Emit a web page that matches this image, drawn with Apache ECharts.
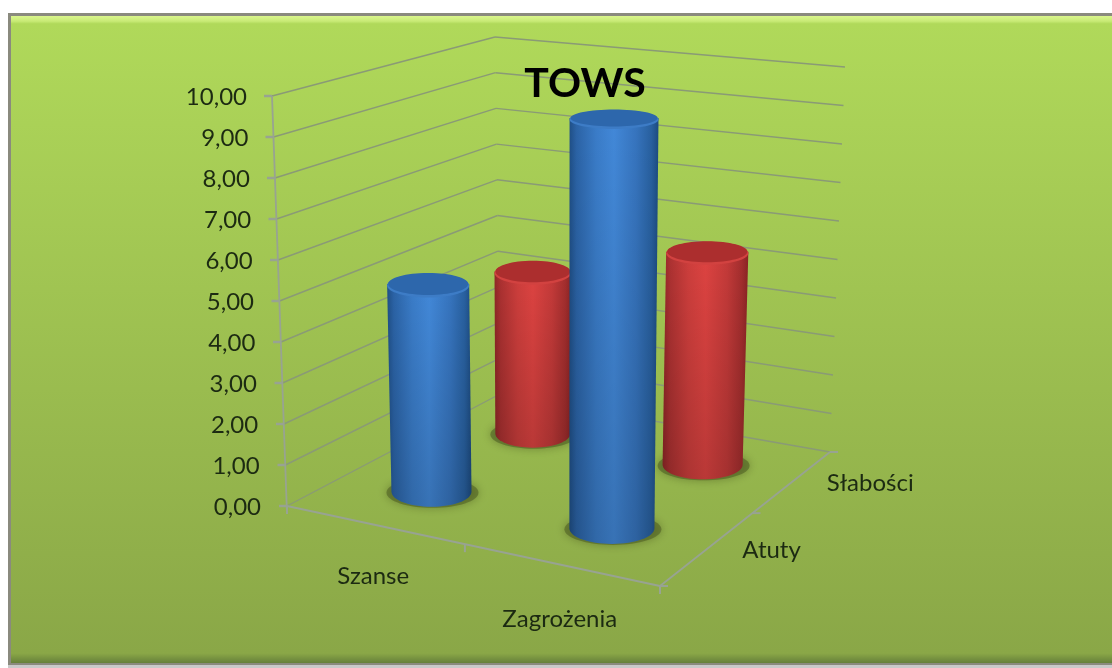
<!DOCTYPE html>
<html><head><meta charset="utf-8">
<style>html,body{margin:0;padding:0;background:#fff}#c{width:1112px;height:668px;filter:blur(0.5px)}</style>
<script src="https://cdn.jsdelivr.net/npm/echarts@6/dist/echarts.min.js"></script>
</head><body><div id="c"></div>
<script>
const categories = ['Szanse', 'Zagrożenia'];
const depthCategories = ['Atuty', 'Słabości'];
const atuty = [5.15, 9.85];
const slabosci = [4.3, 5.45];
const yTicks = [0,1,2,3,4,5,6,7,8,9,10];
const yTickLabels = ['0,00','1,00','2,00','3,00','4,00','5,00','6,00','7,00','8,00','9,00','10,00'];

const GRID = {left:280, top:96, width:373, height:410};
const floorQ = [[287,506],[660,586],[830,452],[500,394]];
const ceilQ  = [[272,96],[672,151],[845,67],[495,37]];
function homo(q){
  const [x0,y0]=q[0],[x1,y1]=q[1],[x2,y2]=q[2],[x3,y3]=q[3];
  const dx1=x1-x2,dx2=x3-x2,sx=x0-x1+x2-x3,dy1=y1-y2,dy2=y3-y2,sy=y0-y1+y2-y3;
  const den=dx1*dy2-dx2*dy1, g=(sx*dy2-dx2*sy)/den, h=(dx1*sy-sx*dy1)/den;
  const a=x1-x0+g*x1,b=x3-x0+h*x3,d=y1-y0+g*y1,e=y3-y0+h*y3;
  return (u,v)=>{const w=g*u+h*v+1;return [(a*u+b*v+x0)/w,(d*u+e*v+y0)/w];};
}
const HF=homo(floorQ), HC=homo(ceilQ);
function P(u,v,w){const f=HF(u,v),c=HC(u,v);return [f[0]+(c[0]-f[0])*w,f[1]+(c[1]-f[1])*w];}
const toU=x=>(x-GRID.left)/GRID.width;
const toW=y=>(GRID.top+GRID.height-y)/GRID.height;

const LINE='#8a9a76', AXIS='#98a392', TXT='#1c2a12';
const line=(a,b,c,w)=>({type:'line',shape:{x1:a[0],y1:a[1],x2:b[0],y2:b[1]},style:{stroke:c,lineWidth:w,fill:null}});

function renderWalls(params,api){
  const w=toW(api.coord([0,api.value(0)])[1]);
  const a=P(0,0,w),b=P(0,1,w),c=P(1,1,w);
  const ch=[line(a,b,LINE,1.4),line(b,c,LINE,1.4),line([a[0]-8,a[1]],a,AXIS,2.5)];
  return {type:'group',children:ch};
}
function renderFrame(params,api){
  const ch=[];
  const fl=P(0,0,0),fr=P(1,0,0),br=P(1,1,0),tl=P(0,0,1);
  ch.push(line(tl,[fl[0],fl[1]+8],AXIS,1.8));
  ch.push(line(fl,fr,AXIS,1.8));
  ch.push(line(fr,br,AXIS,1.8));
  [0,0.5,1].forEach(u=>{const p=P(u,0,0);ch.push(line(p,[p[0],p[1]+8],AXIS,2));});
  [0,0.5,1].forEach(v=>{const p=P(1,v,0);ch.push(line(p,[p[0]+8,p[1]],AXIS,2));});
  return {type:'group',children:ch};
}
function renderDepthLabel(params,api){
  const idx=api.value(0),p=P(1,(idx+0.5)/depthCategories.length,0);
  return {type:'text',style:{x:p[0]+34,y:p[1]+2,text:depthCategories[idx],font:'24px Lato',fill:TXT,textAlign:'left',textVerticalAlign:'middle'}};
}
const ryAt=y=>9.5+(y-120)*0.015;
function cylinder(v,pal){
  return function(params,api){
    const cat=api.value(0),val=api.value(1);
    const u=toU(api.coord([cat,0])[0]);
    const w=toW(api.coord([cat,val])[1]);
    const b=P(u,v,0),t=P(u,v,w);
    t[0]+=3;
    const rb=40+5*(u-.25)-5*(v-.25);
    const rt=rb+2*w;
    const ryb=ryAt(b[1]),ryt=ryAt(t[1]);
    const pts=[[t[0]-rt,t[1]],[t[0]+rt,t[1]]];
    for(let i=0;i<=32;i++){const a=Math.PI*i/32;pts.push([b[0]+rb*Math.cos(a),b[1]+ryb*Math.sin(a)]);}
    const side={type:'polygon',shape:{points:pts},style:{fill:{type:'linear',x:0,y:0,x2:1,y2:0,colorStops:pal.side}}};
    const shade={type:'polygon',shape:{points:pts},style:{fill:{type:'linear',x:0,y:0,x2:0,y2:1,colorStops:[{offset:0,color:'rgba(0,0,0,0)'},{offset:1,color:'rgba(0,0,0,0.16)'}]}}};
    return {type:'group',children:[
      {type:'ellipse',shape:{cx:b[0]+1,cy:b[1]+1,rx:rb+6,ry:ryb},style:{fill:'rgba(80,96,36,0.6)',shadowBlur:10,shadowColor:'rgba(80,96,36,0.95)'}},
      side,shade,
      {type:'ellipse',shape:{cx:t[0],cy:t[1]+1.5,rx:rt,ry:ryt},style:{fill:pal.rim}},
      {type:'ellipse',shape:{cx:t[0],cy:t[1],rx:rt-1,ry:ryt-1},style:{fill:pal.top}}
    ]};
  };
}
const blue={top:'#2d67ac',rim:'#3d7cc6',side:[{offset:0,color:'#1f4f86'},{offset:.08,color:'#2b63a6'},{offset:.3,color:'#3a7cc8'},{offset:.5,color:'#4288d8'},{offset:.75,color:'#3674be'},{offset:.92,color:'#28609f'},{offset:1,color:'#1d4b80'}]};
const red={top:'#ac2e2e',rim:'#d24240',side:[{offset:0,color:'#8e2626'},{offset:.08,color:'#ab3131'},{offset:.3,color:'#cd3e3c'},{offset:.5,color:'#dd4341'},{offset:.75,color:'#c43a39'},{offset:.92,color:'#a42e2e'},{offset:1,color:'#8a2424'}]};

const richY={};
yTicks.forEach(t=>{richY['t'+t]={fontFamily:'Lato',fontSize:24,color:TXT,padding:[3,t*1.4,0,0]};});
const chart=echarts.init(document.getElementById('c'),null,{renderer:'canvas'});
chart.setOption({
  animation:false,
  backgroundColor:'#ffffff',
  title:{text:'TOWS',left:580,top:58,textAlign:'center',textStyle:{fontFamily:'Lato',fontWeight:'bold',fontSize:41,color:'#000'},z:20},
  graphic:[
    {type:'rect',z:-10,shape:{x:8,y:13,width:1104,height:655},style:{fill:'#c9c9c9'}},
    {type:'rect',z:-9,shape:{x:8,y:13,width:1104,height:652},style:{fill:'#8a8a7e'}},
    {type:'rect',z:-8,shape:{x:11,y:16,width:1101,height:647},style:{fill:{type:'linear',x:0,y:0,x2:0,y2:1,colorStops:[{offset:0,color:'#daf68c'},{offset:.008,color:'#c8ea76'},{offset:.012,color:'#b0d95a'},{offset:.985,color:'#8aa747'},{offset:1,color:'#66803a'}]}}}
  ],
  grid:{left:GRID.left,top:GRID.top,width:GRID.width,height:GRID.height},
  xAxis:{type:'category',data:categories,axisLine:{show:false},axisTick:{show:false},splitLine:{show:false},
    axisLabel:{margin:58,interval:0,formatter:(v,i)=>'{c'+i+'|'+v+'}',rich:{
      c0:{fontFamily:'Lato',fontSize:24,color:TXT},
      c1:{fontFamily:'Lato',fontSize:24,color:TXT,padding:[43,0,0,0]}}}},
  yAxis:{type:'value',min:0,max:10,interval:1,axisLine:{show:false},axisTick:{show:false},splitLine:{show:false},
    axisLabel:{margin:19,formatter:v=>'{t'+v+'|'+yTickLabels[yTicks.indexOf(v)]+'}',rich:richY}},
  series:[
    {type:'custom',name:'walls',renderItem:renderWalls,data:yTicks.map(t=>[t]),encode:{y:0},silent:true,z:1},
    {type:'custom',name:'frame',renderItem:renderFrame,data:[[0]],encode:{y:0},silent:true,z:2},
    {type:'custom',name:'depth',renderItem:renderDepthLabel,data:depthCategories.map((d,i)=>[i]),encode:{x:0},silent:true,z:2},
    {type:'custom',name:'Słabości',renderItem:cylinder(0.75,red),data:slabosci.map((v,i)=>[i,v]),encode:{x:0,y:1},silent:true,z:3},
    {type:'custom',name:'Atuty',renderItem:cylinder(0.25,blue),data:atuty.map((v,i)=>[i,v]),encode:{x:0,y:1},silent:true,z:4}
  ]
});
</script></body></html>
